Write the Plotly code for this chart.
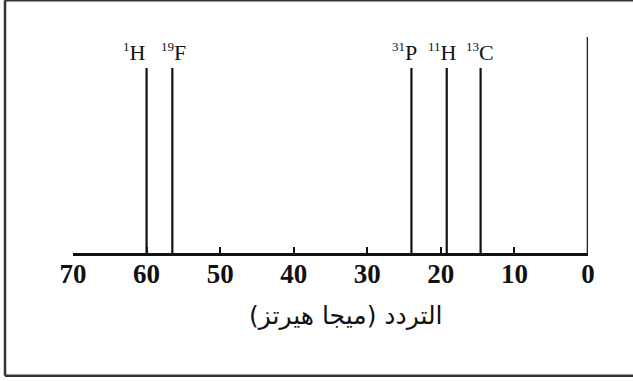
import plotly.graph_objects as go

mass_numbers = ["1", "19", "31", "11", "13"]
symbols = ["H", "F", "P", "H", "C"]
freqs = [60.0, 56.5, 24.0, 19.2, 14.6]
heights = [0.794, 0.794, 0.794, 0.794, 0.794]
ref_freq = [0.0]
ref_height = [0.927]
tick_vals = [70, 60, 50, 40, 30, 20, 10, 0]
x_title = "التردد (ميجا هيرتز)"

def stems(xs, hs):
    X, Y = [], []
    for x, h in zip(xs, hs):
        X += [x, x, None]
        Y += [0, h, None]
    return X, Y

fig = go.Figure()
X, Y = stems(freqs, heights)
fig.add_trace(go.Scatter(x=X, y=Y, mode="lines", line=dict(color="#111", width=2.2),
                         hoverinfo="skip", showlegend=False))
X, Y = stems(ref_freq, ref_height)
fig.add_trace(go.Scatter(x=X, y=Y, mode="lines", line=dict(color="#222", width=2.6),
                         hoverinfo="skip", showlegend=False))

label_shift = [-12, 1, -7, -4, -1]
for m, sym, f, h, s in zip(mass_numbers, symbols, freqs, heights, label_shift):
    text = f"<sup><span style='font-size:13px'>{m}</span></sup>{sym}"
    fig.add_annotation(x=f, y=h, yshift=16, xshift=s, text=text, showarrow=False,
                       xanchor="center", yanchor="middle",
                       font=dict(family="Liberation Serif", size=22, color="#111"))

fig.add_annotation(xref="paper", yref="paper", x=0.53, y=-0.268, text=x_title,
                   showarrow=False, xanchor="center", yanchor="middle",
                   font=dict(family="DejaVu Sans", size=25, color="#111"))

# frame (left, top, bottom)
for x0, y0, x1, y1 in [(-0.132, -0.527, -0.132, 1.085), (-0.132, 1.085, 1.1, 1.085),
                       (-0.132, -0.527, 1.1, -0.527)]:
    fig.add_shape(type="line", xref="paper", yref="paper", x0=x0, y0=y0, x1=x1, y1=y1,
                  line=dict(color="#333", width=2.5))

fig.update_xaxes(range=[70, 0], tickvals=tick_vals, ticktext=[str(v) for v in tick_vals],
                 showline=True, linecolor="#111", linewidth=2.5, ticks="inside",
                 ticklen=6, tickwidth=2, tickcolor="#111", showgrid=False, zeroline=False,
                 ticklabelstandoff=-5,
                 tickfont=dict(family="Liberation Serif", size=27, color="#111", weight="bold"))
fig.update_yaxes(range=[0, 1], visible=False, showgrid=False, zeroline=False, fixedrange=True)

fig.update_layout(width=633, height=381, margin=dict(l=73, r=45, t=20, b=128),
                  plot_bgcolor="white", paper_bgcolor="white")
fig.write_html("out.html", config={"displayModeBar": False},
               post_script="document.body.style.margin='0';document.body.style.overflow='hidden';")
